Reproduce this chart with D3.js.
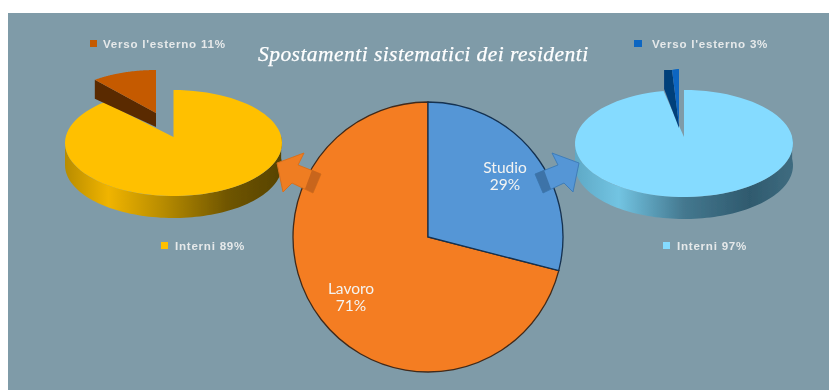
<!DOCTYPE html>
<html>
<head>
<meta charset="utf-8">
<script src="https://cdnjs.cloudflare.com/ajax/libs/d3/7.8.5/d3.min.js"></script>
<style>
  html, body { margin: 0; padding: 0; background: #fff; }
  text { font-family: "Liberation Sans", sans-serif; }
</style>
</head>
<body>
<div id="graph"></div>
<script>
'use strict';

const mainLabels = ['Studio', 'Lavoro'];
const mainValues = [29, 71];
const leftLabels = ['Interni', "Verso l'esterno"];
const leftValues = [89, 11];
const rightLabels = ['Interni', "Verso l'esterno"];
const rightValues = [97, 3];
const titleText = 'Spostamenti sistematici dei residenti';

const root = d3.select('#graph').append('svg')
  .attr('width', 829)
  .attr('height', 390)
  .style('display', 'block');

const defs = root.append('defs');

// the reference is a soft scan, so everything gets a very small blur
defs.append('filter').attr('id', 'soft')
  .append('feGaussianBlur').attr('stdDeviation', 0.45);

const svg = root.append('g').attr('filter', 'url(#soft)');

svg.append('rect')
  .attr('x', 8).attr('y', 13)
  .attr('width', 830).attr('height', 390)
  .attr('fill', '#7f9ba8');

function wallGradient(id, stops) {
  let g = defs.append('linearGradient').attr('id', id);
  stops.forEach(s => {
    g.append('stop').attr('offset', s[0]).attr('stop-color', s[1]);
  });
}
wallGradient('wall-left', [[0, '#b88c00'], [0.2, '#f0b400'], [0.45, '#b88c00'], [0.75, '#6f5500'], [1, '#574300']]);
wallGradient('wall-right', [[0, '#5fa9c6'], [0.2, '#72c4e2'], [0.5, '#44788f'], [0.8, '#2f5a6e'], [1, '#3f6c80']]);

const pie = d3.pie().sort(null);

// point on the rim of a flattened pie, angle clockwise from 12 o'clock
function rim(p, angle) {
  return [p.cx + p.rx * Math.sin(angle), p.cy - p.ry * Math.cos(angle)];
}

function sampleRim(p, a0, a1) {
  let n = 90;
  return d3.range(n + 1).map(i => rim(p, a0 + (a1 - a0) * i / n));
}

const line = d3.line();

function drawPie3D(p, values, labels) {
  let slices = pie(values);
  let big = slices[0];
  let small = slices[1];

  // outer wall of the large slice, only the front half is visible
  let front = sampleRim(p, Math.PI * 0.46, Math.PI * 1.5);
  let wall = front.concat(front.slice().reverse().map(d => [d[0], d[1] + p.depth]));
  svg.append('path')
    .attr('d', line(wall) + 'Z')
    .attr('fill', `url(#${p.wall})`);

  // top of the large slice
  svg.append('path')
    .attr('d', line([[p.cx, p.apexY]].concat(sampleRim(p, big.startAngle, big.endAngle))) + 'Z')
    .attr('fill', p.top);

  // pulled out slice
  let o = p.out;
  let arcPts = sampleRim(o, small.startAngle, small.endAngle);
  let apex = [o.cx, o.cy];
  let first = arcPts[0];
  let cutSide = [
    first,
    apex,
    [apex[0], apex[1] + o.apexDepth],
    [first[0] + o.sideDx, first[1] + o.depth],
    [first[0] + o.sideDx, first[1]],
  ];
  svg.append('path').attr('d', line(cutSide) + 'Z').attr('fill', o.side);
  svg.append('path').attr('d', line([apex].concat(arcPts)) + 'Z').attr('fill', o.top);

  // legend, one entry over the pie and one under it
  let legend = [
    { x: p.legendOut, tx: p.legendOutText, y: 44, w: p.legendOutW, color: o.top, text: `${labels[1]} ${values[1]}%` },
    { x: p.legendIn, tx: p.legendIn + 14, y: 246, w: 7, color: p.top, text: `${labels[0]} ${values[0]}%` },
  ];
  legend.forEach(l => {
    svg.append('rect')
      .attr('x', l.x).attr('y', l.y - 4)
      .attr('width', l.w).attr('height', 7)
      .attr('fill', l.color);
    svg.append('text')
      .attr('x', l.tx).attr('y', l.y + 4)
      .attr('fill', '#e6e9ea')
      .style('font-size', '11.6px')
      .style('font-weight', 'bold')
      .style('letter-spacing', '0.75px')
      .text(l.text);
  });
}

drawPie3D({
  cx: 173.5, cy: 143, rx: 108.5, ry: 53, apexY: 137, depth: 22,
  top: '#ffc000', wall: 'wall-left',
  legendOut: 90, legendOutText: 103, legendOutW: 7, legendIn: 161,
  out: { cx: 156, cy: 113, rx: 96, ry: 43, depth: 19, apexDepth: 14, sideDx: 0, top: '#c55a00', side: '#5a2a00' },
}, leftValues, leftLabels);

drawPie3D({
  cx: 684, cy: 143.5, rx: 109, ry: 53.5, apexY: 137, depth: 22,
  top: '#85dbff', wall: 'wall-right',
  legendOut: 634, legendOutText: 652, legendOutW: 8, legendIn: 663,
  out: { cx: 679, cy: 125, rx: 37, ry: 56, depth: 19, apexDepth: 3, sideDx: -8, top: '#0a66c2', side: '#063f7a' },
}, rightValues, rightLabels);

// central pie
const mainCx = 428;
const mainCy = 237;
const mainR = 135;
const mainColors = d3.scaleOrdinal().domain(mainLabels).range(['#5596d6', '#f47d20']);
const mainEdges = d3.scaleOrdinal().domain(mainLabels).range(['#14304f', '#40291a']);
const arc = d3.arc().innerRadius(0).outerRadius(mainR);

const mainPie = svg.append('g').attr('transform', `translate(${mainCx},${mainCy})`);
mainPie.selectAll('path')
  .data(pie(mainValues))
  .enter()
  .append('path')
  .attr('d', arc)
  .attr('fill', (d, i) => mainColors(mainLabels[i]))
  .attr('stroke', (d, i) => mainEdges(mainLabels[i]))
  .attr('stroke-width', 1.3);
mainPie.select('path').raise();

const mainLabelPos = [[505, 173], [351, 294]];
mainLabels.forEach((name, i) => {
  let t = svg.append('text')
    .attr('text-anchor', 'middle')
    .attr('fill', '#f4f4f2')
    .style('font-family', 'Lato, sans-serif')
    .style('font-size', '15.5px');
  t.append('tspan').attr('x', mainLabelPos[i][0]).attr('y', mainLabelPos[i][1]).text(name);
  t.append('tspan').attr('x', mainLabelPos[i][0]).attr('dy', 17).text(`${mainValues[i]}%`);
});

// block arrows from the central pie to the side pies
function drawArrow(transform, fill, edge, dark) {
  let g = svg.append('g').attr('transform', transform);
  g.append('path')
    .attr('d', 'M277,163 L304,153 L298,165 L321,174 L313,193 L292,183 L283,192 Z')
    .attr('fill', fill)
    .attr('stroke', edge)
    .attr('stroke-width', 1);
  g.append('path')
    .attr('d', 'M312,170 L321,174 L313,193 L305,189 Z')
    .attr('fill', dark);
}
drawArrow('', '#ef7d22', '#d9701c', '#c8651c');
drawArrow(`translate(${mainCx * 2},0) scale(-1,1)`, '#5596d6', '#3f7db8', '#3c73a8');

svg.append('text')
  .attr('x', 258).attr('y', 61)
  .attr('fill', '#ffffff')
  .attr('stroke', '#ffffff')
  .attr('stroke-width', 0.25)
  .style('font-family', '"Liberation Serif", serif')
  .style('font-style', 'italic')
  .style('font-size', '21.5px')
  .style('letter-spacing', '0.45px')
  .text(titleText);
</script>
</body>
</html>
